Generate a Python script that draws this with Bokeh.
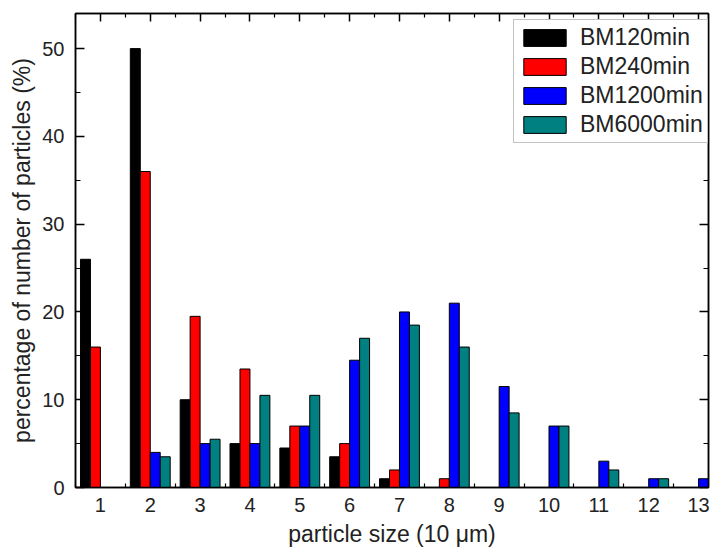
from bokeh.plotting import figure
from bokeh.models import (Range1d, FixedTicker, LinearAxis, Legend, LegendItem,
                          ColumnDataSource, CustomLabelingPolicy)
from bokeh.embed import file_html
from bokeh.resources import INLINE

# ---- data ----
sizes = [1, 2, 3, 4, 5, 6, 7, 8, 9, 10, 11, 12, 13]
tick_labels = [str(s) for s in sizes]
series_names = ["BM120min", "BM240min", "BM1200min", "BM6000min"]
bm120 = [26, 50, 10, 5, 4.5, 3.5, 1, 0, 0, 0, 0, 0, 0]
bm240 = [16, 36, 19.5, 13.5, 7, 5, 2, 1, 0, 0, 0, 0, 0]
bm1200 = [0, 4, 5, 5, 7, 14.5, 20, 21, 11.5, 7, 3, 1, 1]
bm6000 = [0, 3.5, 5.5, 10.5, 10.5, 17, 18.5, 16, 8.5, 7, 2, 1, 0]
all_series = [bm120, bm240, bm1200, bm6000]
colors = ["#000000", "#ff0000", "#0000ff", "#008080"]
offsets = [-0.3, -0.1, 0.1, 0.3]
bar_width = 0.2
x_title = "particle size (10 \u03bcm)"
y_title = "percentage of number of particles (%)"

FONT = "Liberation Sans"

p = figure(width=710, height=555, output_backend="svg", toolbar_location=None,
           x_range=Range1d(0.5, 13.2), y_range=Range1d(0, 54),
           min_border_left=75, min_border_right=2, min_border_top=13, min_border_bottom=68,
           x_axis_location=None, y_axis_location=None)
p.xgrid.visible = False
p.ygrid.visible = False
p.outline_line_color = "black"
p.outline_line_width = 1.5
p.background_fill_color = "white"
p.border_fill_color = "white"

renderers = []
for vals, col, off in zip(all_series, colors, offsets):
    xs = [s + off for s, v in zip(sizes, vals) if v > 0]
    ys = [v for v in vals if v > 0]
    src = ColumnDataSource(dict(x=xs, top=ys))
    r = p.vbar(x="x", top="top", width=bar_width, bottom=0, source=src,
               fill_color=col, line_color="black", line_width=1)
    renderers.append(r)

minor_x = [s - 0.5 for s in sizes] + [13.5]
xticker = FixedTicker(ticks=sizes, minor_ticks=minor_x)
yticker = FixedTicker(ticks=[0, 10, 20, 30, 40, 50], minor_ticks=[5, 15, 25, 35, 45])
no_labels = CustomLabelingPolicy(code="""
const n = indices.size
for (let i = 0; i < n; i++) { indices.unset(i) }
return indices
""")

def style(ax, labels=True):
    ax.axis_line_color = "black"
    ax.axis_line_width = 1.5
    ax.major_tick_line_color = "black"
    ax.minor_tick_line_color = "black"
    ax.major_tick_line_width = 1.5
    ax.minor_tick_line_width = 1.2
    ax.major_tick_out = 0
    ax.minor_tick_out = 0
    ax.major_label_text_font = FONT
    ax.major_label_text_color = "#222222"
    ax.major_label_text_font_size = "20px"
    ax.axis_label_text_font = FONT
    ax.axis_label_text_font_size = "23px"
    ax.axis_label_text_font_style = "normal"
    ax.axis_label_text_color = "#222222"
    if not labels:
        ax.major_label_policy = no_labels
        ax.major_label_text_font_size = "0px"
        ax.major_label_standoff = 0

xb = LinearAxis(ticker=xticker, axis_label=x_title,
                major_label_overrides={s: l for s, l in zip(sizes, tick_labels)})
style(xb)
xb.major_tick_in = 0
xb.minor_tick_in = 4
xb.major_label_standoff = 10
xb.axis_label_standoff = 6
p.add_layout(xb, "below")

xt = LinearAxis(ticker=xticker)
style(xt, labels=False)
xt.major_tick_in = 8
xt.minor_tick_in = 4
p.add_layout(xt, "above")

yl = LinearAxis(ticker=yticker, axis_label=y_title)
style(yl)
yl.major_tick_in = 9
yl.minor_tick_in = 5
yl.major_label_standoff = 11
yl.axis_label_standoff = 4
p.add_layout(yl, "left")

yr = LinearAxis(ticker=yticker)
style(yr, labels=False)
yr.major_tick_in = 9
yr.minor_tick_in = 5
p.add_layout(yr, "right")

legend = Legend(items=[LegendItem(label=n, renderers=[r]) for n, r in zip(series_names, renderers)],
                location=(438, 344))
legend.label_text_font = FONT
legend.label_text_font_size = "23px"
legend.label_text_color = "#222222"
legend.glyph_width = 53
legend.glyph_height = 21
legend.label_height = 21
legend.label_standoff = 9
legend.spacing = 2
legend.padding = 4
legend.margin = 0
legend.border_line_color = "#888888"
legend.border_line_width = 1
legend.background_fill_alpha = 1
p.add_layout(legend)

open("out.html", "w").write(file_html(p, INLINE))
